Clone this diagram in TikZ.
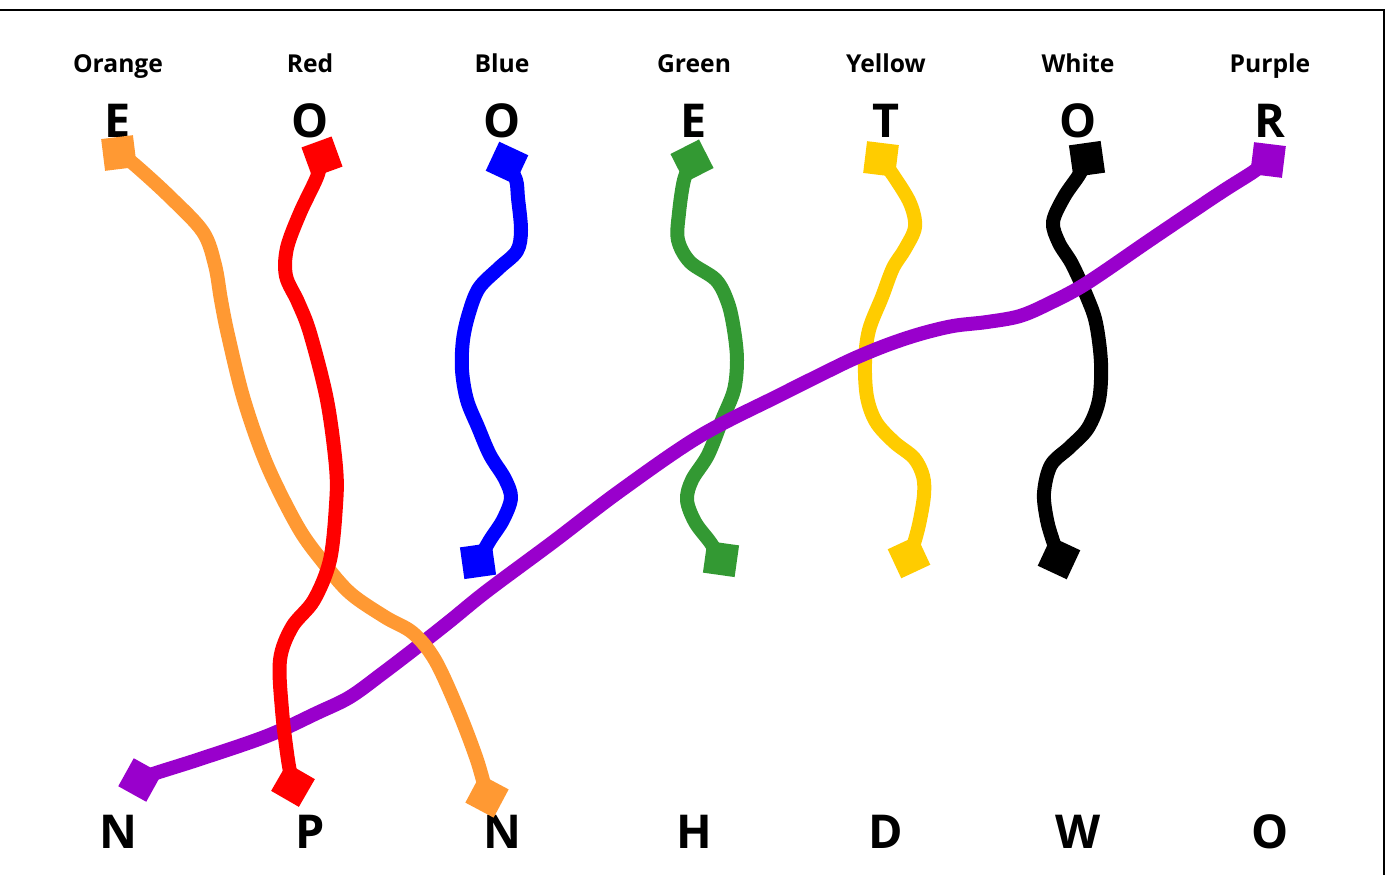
\documentclass[tikz,border=0pt]{standalone}
\usepackage{fontspec}
\setmainfont{Open Sans}
\begin{document}
\begin{tikzpicture}[x=0.75pt,y=-0.75pt,
  colname/.style={font=\bfseries\fontsize{18.5}{20}\selectfont, anchor=base, inner sep=0pt},
  bigletter/.style={font=\bfseries\fontsize{35}{38}\selectfont, anchor=base, inner sep=0pt},
  term/.style={draw=none, minimum size=24pt, inner sep=0pt, shape=rectangle},
  wire/.style={line width=10.5pt, line join=round, smooth, tension=0.55}]
\definecolor{cOrange}{RGB}{255,153,51}
\definecolor{cRed}{RGB}{255,0,0}
\definecolor{cBlue}{RGB}{0,0,255}
\definecolor{cGreen}{RGB}{51,153,51}
\definecolor{cYellow}{RGB}{255,204,0}
\definecolor{cPurple}{RGB}{153,0,204}
\useasboundingbox (0,0) rectangle (1389,875);
\fill[white] (0,0) rectangle (1389,875);
\draw[line width=1.5pt] (0,10) -- (1384,10) -- (1384,875);

% column labels
\node[colname] (lO) at (118,72) {Orange};
\node[colname] (lR) at (310,72) {Red};
\node[colname] (lB) at (502,72) {Blue};
\node[colname] (lG) at (694,72) {Green};
\node[colname] (lY) at (886,72) {Yellow};
\node[colname] (lW) at (1078,72) {White};
\node[colname] (lP) at (1270,72) {Purple};

% top letters
\node[bigletter] (t1) at (118,137) {E};
\node[bigletter] (t2) at (310,137) {O};
\node[bigletter] (t3) at (502,137) {O};
\node[bigletter] (t4) at (694,137) {E};
\node[bigletter] (t5) at (886,137) {T};
\node[bigletter] (t6) at (1078,137) {O};
\node[bigletter] (t7) at (1270,137) {R};

% bottom letters
\node[bigletter] (b1) at (118,848) {N};
\node[bigletter] (b2) at (310,848) {P};
\node[bigletter] (b3) at (502,848) {N};
\node[bigletter] (b4) at (694,848) {H};
\node[bigletter] (b5) at (886,848) {D};
\node[bigletter] (b6) at (1078,848) {W};
\node[bigletter] (b7) at (1270,848) {O};

% terminal positions (coordinates)
\coordinate (so) at (119,153);  \coordinate (eo) at (487,796);
\coordinate (sr) at (322,157);  \coordinate (er) at (293,785);
\coordinate (sb) at (507,163);  \coordinate (eb) at (478,561);
\coordinate (sg) at (692,161);  \coordinate (eg) at (721,559);
\coordinate (sy) at (881,159);  \coordinate (ey) at (909,557);
\coordinate (sw) at (1087,159); \coordinate (ew) at (1059,558);
\coordinate (sp) at (1268,160); \coordinate (ep) at (140,780);

% green wire
\draw[wire, cGreen] plot coordinates {(sg) (684,180) (679,213) (678,240) (690,262) (716,280) (728,303) (734,330) (737,360) (734,390) (722,420) (708,455) (692,480) (687,500) (695,522) (710,542) (eg)};
\node[term, fill=cGreen, rotate=27] (tg) at (sg) {};
\node[term, fill=cGreen, rotate=-8] (bg) at (eg) {};

% yellow wire
\draw[wire, cYellow] plot coordinates {(sy) (893,175) (910,203) (915,227) (905,249) (893,268) (882,297) (869,330) (865,363) (867,397) (876,422) (894,442) (914,458) (923,476) (924,495) (920,520) (915,540) (ey)};
\node[term, fill=cYellow, rotate=-7] (ty) at (sy) {};
\node[term, fill=cYellow, rotate=25] (by) at (ey) {};

% white (black) wire
\draw[wire, black] plot coordinates {(sw) (1079,175) (1064,197) (1053,222) (1059,243) (1072,264) (1087,297) (1096,323) (1101,363) (1099,400) (1088,428) (1070,447) (1051,465) (1044,493) (1047,520) (1053,541) (ew)};
\node[term, fill=black, rotate=8] (tw) at (sw) {};
\node[term, fill=black, rotate=-25] (bw) at (ew) {};

% purple wire
\draw[wire, cPurple] plot coordinates {(sp) (1253,172) (1220,193) (1153,238) (1087,283) (1050,303) (1020,316) (987,322) (953,326) (920,334) (887,345) (853,359) (820,375) (780,395) (700,436) (620,491) (553,542) (487,591) (450,621) (417,647) (383,673) (350,697) (317,713) (267,736) (200,759) (153,774) (ep)};
\node[term, fill=cPurple, rotate=-7] (tp) at (sp) {};
\node[term, fill=cPurple, rotate=-29] (bp) at (ep) {};

% blue wire
\draw[wire, cBlue] plot coordinates {(sb) (516,180) (518,198) (521,230) (517,251) (499,268) (479,288) (469,313) (463,340) (462,370) (467,400) (478,427) (490,455) (505,479) (511,498) (503,520) (490,540) (eb)};
\node[term, fill=cBlue, rotate=-25] (tb) at (sb) {};
\node[term, fill=cBlue, rotate=8] (bb) at (eb) {};

% orange wire
\draw[wire, cOrange] plot coordinates {(so) (135,165) (170,197) (203,232) (215,265) (221,300) (228,335) (244,400) (267,465) (298,527) (323,562) (350,593) (385,617) (413,633) (435,660) (458,710) (477,760) (eo)};
\node[term, fill=cOrange, rotate=7] (to) at (so) {};
\node[term, fill=cOrange, rotate=-28] (bo) at (eo) {};

% red wire
\draw[wire, cRed] plot coordinates {(sr) (317,177) (300,213) (287,248) (286,276) (298,302) (310,333) (327,400) (336,467) (336,505) (330,560) (314,600) (292,627) (280,660) (282,710) (288,760) (er)};
\node[term, fill=cRed, rotate=20] (tr) at (sr) {};
\node[term, fill=cRed, rotate=-30] (br) at (er) {};
\end{tikzpicture}
\end{document}
